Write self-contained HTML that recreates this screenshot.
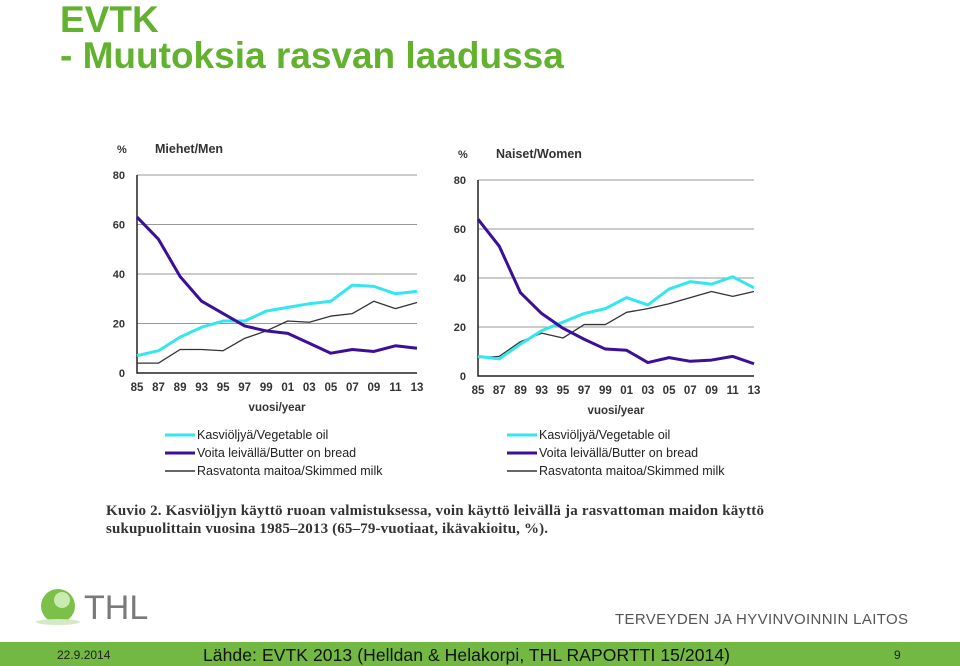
<!DOCTYPE html>
<html><head><meta charset="utf-8"><style>
body{margin:0;width:960px;height:666px;background:#fff;overflow:hidden;font-family:"Liberation Sans",sans-serif}
svg{display:block}
</style></head><body>
<svg width="960" height="666" xmlns="http://www.w3.org/2000/svg">
<text x="60" y="32" font-size="37" font-weight="bold" fill="#62b22f">EVTK</text>
<text x="60" y="68" font-size="37" font-weight="bold" fill="#62b22f">- Muutoksia rasvan laadussa</text>
<g id="charts"></g>
<g font-size="12.5" fill="#222">
<g>
<line x1="165" y1="435" x2="195" y2="435" stroke="#33e6f0" stroke-width="3"/><text x="197" y="439">Kasviöljyä/Vegetable oil</text>
<line x1="165" y1="453" x2="195" y2="453" stroke="#3c0f99" stroke-width="3"/><text x="197" y="457">Voita leivällä/Butter on bread</text>
<line x1="165" y1="471" x2="195" y2="471" stroke="#666" stroke-width="2"/><text x="197" y="475">Rasvatonta maitoa/Skimmed milk</text>
</g>
<g>
<line x1="507" y1="435" x2="537" y2="435" stroke="#33e6f0" stroke-width="3"/><text x="539" y="439">Kasviöljyä/Vegetable oil</text>
<line x1="507" y1="453" x2="537" y2="453" stroke="#3c0f99" stroke-width="3"/><text x="539" y="457">Voita leivällä/Butter on bread</text>
<line x1="507" y1="471" x2="537" y2="471" stroke="#666" stroke-width="2"/><text x="539" y="475">Rasvatonta maitoa/Skimmed milk</text>
</g>
</g>
<text x="106" y="515" font-family="Liberation Serif,serif" font-size="15" font-weight="bold" fill="#333" textLength="658">Kuvio 2.   Kasviöljyn käyttö ruoan valmistuksessa, voin käyttö leivällä ja rasvattoman maidon käyttö</text>
<text x="106" y="533" font-family="Liberation Serif,serif" font-size="15" font-weight="bold" fill="#333" textLength="442">sukupuolittain vuosina 1985–2013 (65–79-vuotiaat, ikävakioitu, %).</text>
<g>
<circle cx="58" cy="606" r="17" fill="#7cc04a"/><circle cx="62" cy="600" r="8" fill="#c9eab0"/>
<ellipse cx="58" cy="622" rx="22" ry="3" fill="#d5e8c8"/>
<text x="84" y="619" font-size="34" fill="#7a7a7a">THL</text>
</g>
<text x="908" y="624" font-size="15" fill="#555" text-anchor="end" textLength="293">TERVEYDEN JA HYVINVOINNIN LAITOS</text>
<rect x="0" y="642" width="960" height="24" fill="#72b843"/>
<text x="57" y="659" font-size="12" fill="#222">22.9.2014</text>
<text x="203" y="661" font-size="17.5" fill="#111" textLength="527">Lähde: EVTK 2013 (Helldan &amp; Helakorpi, THL RAPORTTI 15/2014)</text>
<text x="894" y="659" font-size="12" fill="#222">9</text>
</svg>
<script>
const years = ["85","87","89","93","95","97","99","01","03","05","07","09","11","13"];
const yTicks = [0,20,40,60,80];
const menVeg = [7,9,14.5,18.5,21,21,25,26.5,28,29,35.5,35,32,33];
const menButter = [63,54,39,29,24,19,17,16,12,8,9.5,8.7,11,10];
const menMilk = [4,4,9.5,9.5,9,14,17,21,20.5,23,24,29,26,28.5];
const womenVeg = [8,7,13,18.5,22,25.5,27.5,32,29,35.5,38.5,37.5,40.5,36];
const womenButter = [64,53,34,25.5,19.5,15,11,10.5,5.5,7.5,6,6.5,8,5];
const womenMilk = [7.5,8,14,17.5,15.5,21,21,26,27.5,29.5,32,34.5,32.5,34.5];
const NS="http://www.w3.org/2000/svg";
function mk(tag,attrs,parent){const e=document.createElementNS(NS,tag);for(const k in attrs)e.setAttribute(k,attrs[k]);parent.appendChild(e);return e;}
function chart(cfg){
  const g=mk('g',{},document.getElementById('charts'));
  
  
  const x=i=>cfg.x0+(cfg.x1-cfg.x0)*i/(years.length-1);
  const y=v=>cfg.y0-(cfg.y0-cfg.y80)*v/80;
  yTicks.forEach(t=>{
    if(t>0){const l=mk('line',{x1:cfg.x0,x2:cfg.x1,y1:y(t),y2:y(t),stroke:'#999','stroke-width':1},g);
    
    }
    const tx=mk('text',{x:cfg.x0-12,y:y(t)+4,'font-size':11,'font-weight':'bold',fill:'#333','text-anchor':'end'},g);
    tx.textContent=t;
    
    
  });
  const ax=mk('path',{d:`M${cfg.x0},${y(80)}V${cfg.y0}H${cfg.x1}`,stroke:'#222','stroke-width':1.5,fill:'none'},g);
  
  
  years.forEach((yr,i)=>{
    const tx=mk('text',{x:x(i),y:cfg.y0+18,'font-size':11.5,'font-weight':'bold',fill:'#333','text-anchor':'middle'},g);
    tx.textContent=yr;
    
    
  });
  const xt=mk('text',{x:(cfg.x0+cfg.x1)/2,y:cfg.y0+38,'font-size':11.5,'font-weight':'bold',fill:'#333','text-anchor':'middle'},g);
  xt.textContent='vuosi/year';
  
  
  const pc=mk('text',{x:cfg.x0-20,y:cfg.y80-22,'font-size':11,'font-weight':'bold',fill:'#333'},g);
  pc.textContent='%';
  
  
  const tt=mk('text',{x:cfg.x0+18,y:cfg.y80-22,'font-size':12.5,'font-weight':'bold',fill:'#333'},g);
  tt.textContent=cfg.title;
  
  
  cfg.series.forEach(s=>{
    const p=mk('polyline',{points:s.v.map((v,i)=>x(i)+','+y(v)).join(' '),fill:'none',stroke:s.c,'stroke-width':s.w,'stroke-linejoin':'round'},g);
    
    
  });
}
chart({name:'men-chart',title:'Miehet/Men',x0:137,x1:417,y0:373,y80:175,series:[
 {v:menMilk,c:'#333',w:1.3,n:'line-milk-men'},{v:menVeg,c:'#33e6f0',w:3,n:'line-veg-men'},{v:menButter,c:'#3c0f99',w:3,n:'line-butter-men'}]});
chart({name:'women-chart',title:'Naiset/Women',x0:478,x1:754,y0:376,y80:180,series:[
 {v:womenMilk,c:'#333',w:1.3,n:'line-milk-women'},{v:womenVeg,c:'#33e6f0',w:3,n:'line-veg-women'},{v:womenButter,c:'#3c0f99',w:3,n:'line-butter-women'}]});
</script>
</body></html>
